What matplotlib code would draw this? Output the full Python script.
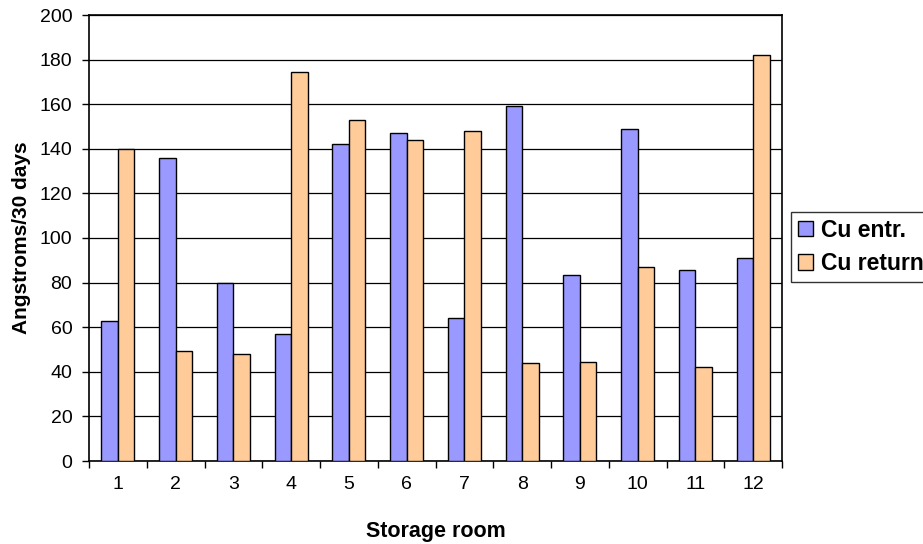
import numpy as np
import matplotlib.pyplot as plt

plt.rcParams['font.family'] = ['Liberation Sans', 'DejaVu Sans']

rooms = ['1', '2', '3', '4', '5', '6', '7', '8', '9', '10', '11', '12']
cu_entr = [63, 136, 80, 57, 142, 147, 64, 159, 83.5, 149, 85.5, 91]
cu_return = [140, 49.5, 48, 174.5, 153, 144, 148, 44, 44.6, 87, 42, 182]

fig = plt.figure(figsize=(9.23, 5.44), dpi=100)
ax = fig.add_axes([89 / 923, 1 - 461 / 544, (782 - 89) / 923, (461 - 15) / 544])

x = np.arange(len(rooms))
w = 0.285
ax.bar(x - w / 2, cu_entr, w, color='#9999FF', edgecolor='black', linewidth=1.0,
       label='Cu entr.', zorder=3)
ax.bar(x + w / 2, cu_return, w, color='#FFCC99', edgecolor='black', linewidth=1.0,
       label='Cu return', zorder=3)

ax.set_xlim(-0.5, len(rooms) - 0.5)
ax.set_ylim(0, 200)
ax.set_yticks(range(0, 201, 20))
ax.yaxis.grid(True, color='black', linewidth=0.9, zorder=0)

# category labels centred, tick marks on the boundaries
ax.set_xticks(x)
ax.set_xticklabels(rooms)
ax.set_xticks(np.arange(-0.5, len(rooms)), minor=True)
ax.tick_params(axis='x', which='major', length=0, pad=11, labelsize=14)
ax.tick_params(axis='x', which='minor', length=5, width=1, color='black')
ax.tick_params(axis='y', length=5, width=1, labelsize=14, pad=7)

for s in ax.spines.values():
    s.set_color('black')
    s.set_linewidth(1.2)

ax.set_xlabel('Storage room', fontsize=15.5, fontweight='bold', labelpad=20)
ax.set_ylabel('Angstroms/30 days', fontsize=15, fontweight='bold', labelpad=6)

leg = fig.legend(loc='upper left', bbox_to_anchor=(791 / 923, 1 - 212 / 544),
                 frameon=True, fancybox=False, edgecolor='black',
                 prop={'weight': 'bold', 'size': 16.5}, handlelength=0.65,
                 handleheight=0.65, handletextpad=0.35, borderpad=0.3,
                 labelspacing=0.45, borderaxespad=0)
leg.get_frame().set_linewidth(1.0)

fig.savefig('out.png', dpi=100)
